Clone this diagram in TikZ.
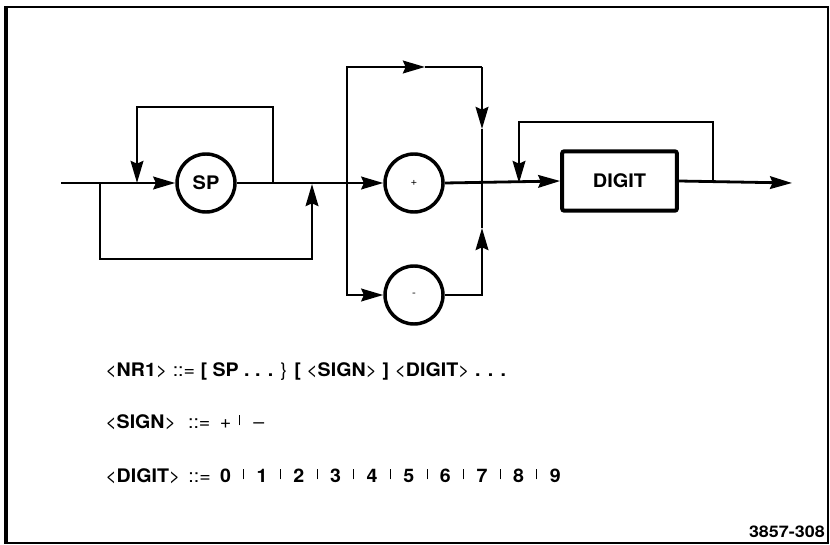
\documentclass[tikz,border=0pt]{standalone}
\usepackage{fontspec}
\setmainfont[FakeStretch=1.07]{TeX Gyre Heros}
\newfontfamily\widefont[FakeStretch=1.05]{TeX Gyre Heros}
\newfontfamily\numfont[FakeStretch=1.12]{TeX Gyre Heros}
\usetikzlibrary{arrows.meta}
\newcommand{\orbar}{\hspace{9.3pt}\rule[2pt]{0.7pt}{7.5pt}\hspace{9.3pt}}
\begin{document}
\begin{tikzpicture}[x=0.75pt,y=-0.75pt,
  line/.style={line width=2.1pt},
  arr/.style={line width=2.1pt, -{Stealth[length=16.5pt,width=9.5pt,inset=2pt]}},
  circ/.style={circle, draw, line width=2.6pt, minimum size=43.5pt, inner sep=0pt},
  digbox/.style={draw, line width=3pt, rounded corners=1.5pt, minimum width=86pt, minimum height=44.5pt, inner sep=0pt, font=\fontsize{14}{16}\selectfont\bfseries},
  lbl/.style={anchor=base west, inner sep=0pt, font=\widefont\fontsize{14}{16}\selectfont}
]
\useasboundingbox (0,0) rectangle (830,545);
% frame
\draw[line width=1.7pt] (6,7) -- (828,7) -- (828,543) -- (6,543);
\draw[line width=2.8pt] (6,6) -- (6,544);

% nodes
\node[circ, font=\fontsize{14}{16}\selectfont\bfseries] (sp) at (206,183) {SP};
\node[circ, font=\fontsize{8}{9}\selectfont] (plus) at (414,183) {+};
\node[circ, font=\fontsize{8}{9}\selectfont] (minus) at (414,295) {-};
\node[digbox] (digit) at (619.5,181) {DIGIT};

% coordinates
\coordinate (start) at (61,183);
\coordinate (j1) at (100,183);
\coordinate (j2) at (137,183);
\coordinate (j3) at (273,183);
\coordinate (j4) at (312,184);
\coordinate (j5) at (347,183);
\coordinate (j6) at (482,183);
\coordinate (j7) at (519,183);
\coordinate (j8) at (713,183);
\coordinate (finish) at (792,183);
\coordinate (b1) at (100,259);
\coordinate (b2) at (312,259);
\coordinate (l1) at (273,107);
\coordinate (l2) at (137,107);
\coordinate (t1) at (347,67);
\coordinate (t2) at (425,67);
\coordinate (t3) at (482,67);
\coordinate (t4) at (482,129);
\coordinate (m1) at (347,295);
\coordinate (m2) at (482,295);
\coordinate (m3) at (482,228);
\coordinate (d1) at (713,122);
\coordinate (d2) at (519,122);

% SP part
\draw[line] (start) -- (j1);
\draw[arr] (j1) -- (sp.west);
\draw[arr] (j1) -- (b1) -- (b2) -- (j4);
\draw[arr] (j3) -- (l1) -- (l2) -- (j2);
\draw[arr] (sp.east) -- (plus.west);

% sign part
\draw[arr] (j5) -- (t1) -- (t2);
\draw[line] (t2) -- (t3);
\draw[arr] (t3) -- (t4);
\draw[line] (t4) -- (j6);
\draw[arr] (j5) -- (m1) -- (minus.west);
\draw[arr] (minus.east) -- (m2) -- (m3);
\draw[line] (m3) -- (j6);

% digit part
\draw[arr] (plus.east) -- (digit.west);
\draw[arr] (j8) -- (d1) -- (d2) -- (j7);
\draw[arr] (digit.east) -- (finish);

% texts
\node[lbl] (nr1) at (105,376) {<\textbf{NR1}> ::= \textbf{[ SP . . . }\} \textbf{[} <\textbf{SIGN}> \textbf{]} <\textbf{DIGIT}> \textbf{. . .}};
\node[lbl] (sign) at (105,428) {<\textbf{SIGN}>\hspace{9pt}::=\hspace{7pt}+\hspace{6pt}\rule[2pt]{0.7pt}{7.5pt}\hspace{10pt}–};
\node[lbl] (dig) at (105,482) {<\textbf{DIGIT}>\hspace{6pt}::=\hspace{7pt}\textbf{0}\orbar\textbf{1}\orbar\textbf{2}\orbar\textbf{3}\orbar\textbf{4}\orbar\textbf{5}\orbar\textbf{6}\orbar\textbf{7}\orbar\textbf{8}\orbar\textbf{9}};
\node[anchor=base east, inner sep=0pt, font=\numfont\fontsize{12}{14}\selectfont\bfseries] (fig) at (825,537) {3857-308};
\end{tikzpicture}
\end{document}
